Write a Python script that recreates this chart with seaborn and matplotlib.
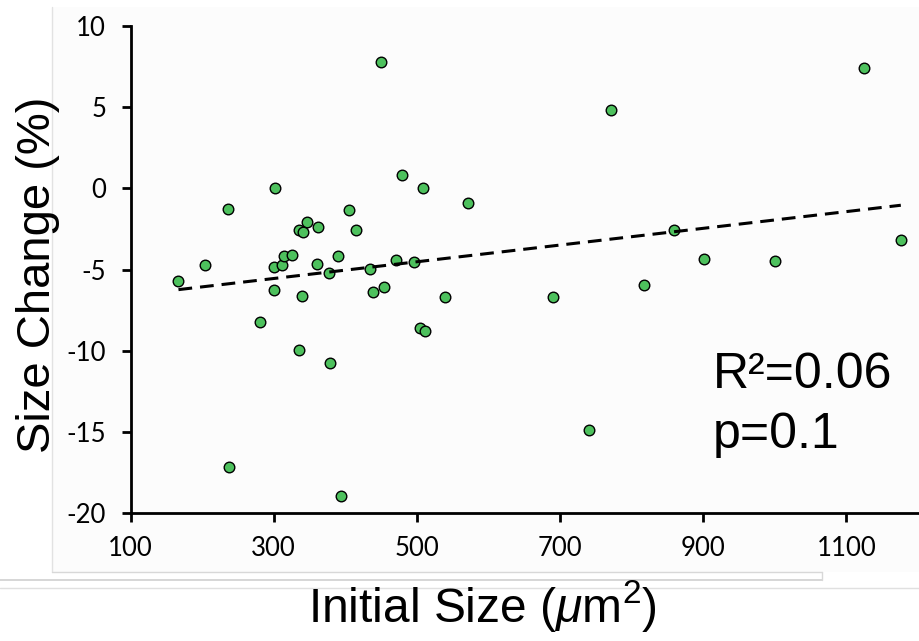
import numpy as np
import pandas as pd
import seaborn as sns
import matplotlib.pyplot as plt
from matplotlib.lines import Line2D
from matplotlib.patches import Rectangle

# values
initial_size = [449.7, 302.5, 235.7, 479.5, 508.6, 572, 405, 346, 334.8, 340.8,
                362.4, 415, 204, 300, 312, 314, 325.4, 361, 390, 376.8,
                434.7, 471, 496, 167, 301, 339.4, 439, 454, 539, 281,
                335, 378.6, 504, 511, 238, 393.6, 771.6, 1124, 859, 1176,
                901, 1000, 817, 689.6, 741]
size_change = [7.78, 0.0, -1.29, 0.83, 0.0, -0.88, -1.31, -2.09, -2.56, -2.70,
               -2.36, -2.58, -4.74, -4.82, -4.74, -4.18, -4.10, -4.66, -4.16, -5.19,
               -4.98, -4.43, -4.55, -5.73, -6.26, -6.64, -6.36, -6.07, -6.67, -8.25,
               -9.93, -10.75, -8.61, -8.80, -17.17, -18.94, 4.82, 7.43, -2.54, -3.18,
               -4.37, -4.45, -5.94, -6.72, -14.9]
x_ticks = [100, 300, 500, 700, 900, 1100]
y_ticks = [-20, -15, -10, -5, 0, 5, 10]
stats_lines = ["R\u00b2=0.06", "p=0.1"]


def main():
    data = pd.DataFrame({"initial_size": initial_size, "size_change": size_change})

    sns.set_style("ticks")
    plt.rcParams["font.family"] = ["Liberation Sans", "DejaVu Sans"]
    plt.rcParams["mathtext.fontset"] = "custom"
    plt.rcParams["mathtext.rm"] = "Liberation Sans"
    plt.rcParams["mathtext.it"] = "Liberation Sans:italic"
    plt.rcParams["axes.unicode_minus"] = False
    plt.rcParams["text.color"] = "black"

    fig = plt.figure(figsize=(9.19, 6.41), dpi=100)
    fig.patch.set_facecolor("white")

    # faint screenshot panel behind the plot
    W, H = 919.0, 641.0
    fig.add_artist(Rectangle((52 / W, 1 - 572 / H), (W - 52) / W, (572 - 7) / H,
                             transform=fig.transFigure, facecolor="#fcfcfc",
                             edgecolor="none", zorder=0))
    fig.add_artist(Line2D([52 / W, 52 / W], [1 - 7 / H, 1 - 572 / H],
                          transform=fig.transFigure, color="#e2e2e2", lw=1))
    fig.add_artist(Line2D([52 / W, 822 / W], [1 - 572 / H, 1 - 572 / H],
                          transform=fig.transFigure, color="#d8d8d8", lw=1))
    fig.add_artist(Line2D([0, 822 / W], [1 - 580 / H, 1 - 580 / H],
                          transform=fig.transFigure, color="#cfcfcf", lw=1.2))
    fig.add_artist(Line2D([822 / W, 822 / W], [1 - 572 / H, 1 - 580 / H],
                          transform=fig.transFigure, color="#d8d8d8", lw=1))
    fig.add_artist(Line2D([0, 1], [1 - 588 / H, 1 - 588 / H],
                          transform=fig.transFigure, color="#e0e0e0", lw=1))

    ax = fig.add_axes([130.5 / W, 1 - 513 / H, (918 - 130.5) / W, (513 - 26) / H])
    ax.set_facecolor("none")

    sns.scatterplot(data=data, x="initial_size", y="size_change", ax=ax,
                    color="#4dc15d", edgecolor="black", linewidth=1.0, s=58,
                    zorder=2, clip_on=False)
    sns.regplot(data=data, x="initial_size", y="size_change", ax=ax,
                scatter=False, ci=None, truncate=True,
                line_kws=dict(color="black", lw=2.2, ls=(0, (4.5, 2.6)), zorder=3))

    ax.set_xlim(100, 1200)
    ax.set_ylim(-20, 10)
    ax.set_xticks(x_ticks)
    ax.set_yticks(y_ticks)
    ax.set_xlabel("")
    ax.set_ylabel("")
    ax.tick_params(axis="both", direction="out", length=6.5, width=2,
                   color="black", labelcolor="black", labelsize=18.5,
                   labelfontfamily="Lato")
    ax.tick_params(axis="x", pad=10)
    ax.tick_params(axis="y", pad=11)
    sns.despine(ax=ax)
    for side in ["left", "bottom"]:
        ax.spines[side].set_linewidth(2)
        ax.spines[side].set_color("black")

    # fit statistics
    ax.text(0.74, 0.257, stats_lines[0], transform=ax.transAxes, fontsize=36,
            va="baseline", ha="left", color="black")
    ax.text(0.74, 0.133, stats_lines[1], transform=ax.transAxes, fontsize=36,
            va="baseline", ha="left", color="black")

    # axis titles
    fig.text(38 / W, 1 - 275 / H, "Size Change (%)", rotation=90, fontsize=34,
             ha="center", va="center", color="black")
    fig.text(482 / W, 1 - 622 / H, r"Initial Size ($\mu$m$^{\mathit{2}}$)",
             fontsize=34.5, ha="center", va="baseline", color="black")

    fig.savefig("out.png", dpi=100)


if __name__ == "__main__":
    main()
